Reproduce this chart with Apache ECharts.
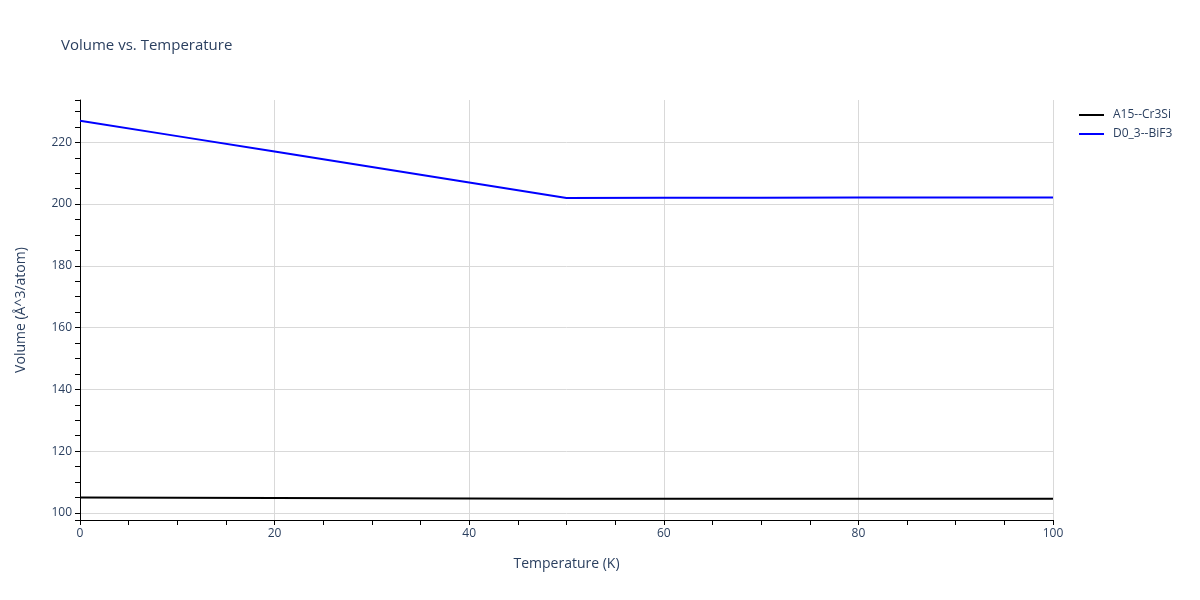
<!DOCTYPE html>
<html>
<head>
<meta charset="utf-8">
<script src="https://cdn.jsdelivr.net/npm/echarts@6/dist/echarts.min.js"></script>
<style>
html, body { margin: 0; padding: 0; background: #fff; }
#main { width: 1200px; height: 600px; }
</style>
</head>
<body>
<div id="main"></div>
<script>
// data
var temperature = [0, 10, 20, 30, 40, 50, 60, 70, 80, 90, 100];
var seriesNames = ['A15--Cr3Si', 'D0_3--BiF3'];
var volA15 = [105.0, 104.92, 104.84, 104.76, 104.68, 104.6, 104.6, 104.6, 104.61, 104.61, 104.62];
var volD03 = [227, 222, 217, 212, 207, 202, 202.03, 202.06, 202.09, 202.12, 202.15];
var lineColors = ['#000000', '#0000ff'];

function pairs(xs, ys) {
    var out = [];
    for (var i = 0; i < xs.length; i++) {
        out.push([xs[i], ys[i]]);
    }
    return out;
}

var textColor = '#2a3f5f';
var fontFamily = '"Open Sans", Verdana, Arial, sans-serif';
// plain line as legend icon, with a tiny speck at the far end to leave a gap before the text
var lineIcon = 'path://M0,0H25V2H0Z M28.99,0H29V0.01H28.99Z';

var myChart = echarts.init(document.getElementById('main'));
var option = {
    animation: false,
    textStyle: { fontFamily: fontFamily },
    title: {
        text: 'Volume vs. Temperature',
        left: 56,
        top: 33,
        textStyle: { fontFamily: fontFamily, fontSize: 15, fontWeight: 'normal', color: textColor }
    },
    legend: {
        orient: 'vertical',
        left: 1074,
        top: 102,
        itemWidth: 29,
        itemHeight: 2,
        itemGap: 3,
        textStyle: { fontFamily: fontFamily, fontSize: 12, color: textColor, lineHeight: 16 },
        data: [
            { name: seriesNames[0], icon: lineIcon },
            { name: seriesNames[1], icon: lineIcon }
        ]
    },
    grid: { left: 80, right: 147, top: 100, bottom: 80 },
    xAxis: {
        type: 'value',
        min: 0,
        max: 100,
        interval: 20,
        name: 'Temperature (K)',
        nameLocation: 'middle',
        nameGap: 37,
        nameTextStyle: { fontSize: 14, color: textColor },
        axisLine: { show: true, onZero: false, lineStyle: { color: '#000', width: 1 } },
        axisTick: { show: true, length: 5, lineStyle: { color: '#000' } },
        minorTick: { show: true, splitNumber: 4, length: 5, lineStyle: { color: '#000' } },
        axisLabel: { fontSize: 12, color: textColor, margin: 8 },
        splitLine: { show: true, lineStyle: { color: '#d9d9d9', width: 1 } }
    },
    yAxis: {
        type: 'value',
        min: 97.7,
        max: 233.7,
        splitNumber: 7,
        name: 'Volume (Å^3/atom)',
        nameLocation: 'middle',
        nameGap: 52,
        nameTextStyle: { fontSize: 14, color: textColor },
        axisLine: { show: true, onZero: false, lineStyle: { color: '#000', width: 1 } },
        axisTick: { show: true, length: 5, lineStyle: { color: '#000' } },
        minorTick: { show: true, splitNumber: 4, length: 5, lineStyle: { color: '#000' } },
        axisLabel: { fontSize: 12, color: textColor, margin: 8, showMinLabel: false, showMaxLabel: false },
        splitLine: { show: true, showMinLine: false, showMaxLine: false, lineStyle: { color: '#d9d9d9', width: 1 } }
    },
    series: [
        {
            name: seriesNames[0],
            type: 'line',
            data: pairs(temperature, volA15),
            symbol: 'none',
            lineStyle: { color: lineColors[0], width: 2 },
            itemStyle: { color: lineColors[0] }
        },
        {
            name: seriesNames[1],
            type: 'line',
            data: pairs(temperature, volD03),
            symbol: 'none',
            lineStyle: { color: lineColors[1], width: 2 },
            itemStyle: { color: lineColors[1] }
        }
    ]
};
myChart.setOption(option);
</script>
</body>
</html>
